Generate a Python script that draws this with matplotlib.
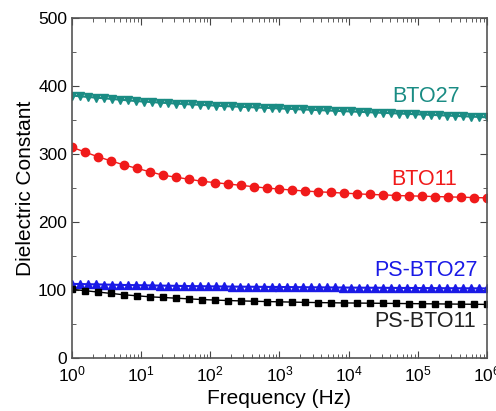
import numpy as np
import matplotlib
matplotlib.use("Agg")
import matplotlib.pyplot as plt
from matplotlib.ticker import LogLocator, MultipleLocator, NullFormatter

plt.rcParams["font.family"] = ["Liberation Sans", "DejaVu Sans"]
plt.rcParams["mathtext.fontset"] = "custom"
plt.rcParams["mathtext.rm"] = "Liberation Sans"

# --- data ----------------------------------------------------------
# measurement sweeps (log-spaced frequency grid, Hz)
freq_dense = np.logspace(0, 6, 53)   # triangle series
freq_sparse = np.logspace(0, 6, 33)  # circle / square series

bto27 = [386, 385, 384, 383, 382, 381, 380, 379, 378, 377.2,
         376.4, 375.7, 375, 374.3, 373.6, 373, 372.4, 371.8, 371.2, 370.6,
         370.1, 369.6, 369.1, 368.6, 368.1, 367.6, 367.1, 366.6, 366.1, 365.6,
         365.1, 364.6, 364.1, 363.6, 363.1, 362.6, 362.1, 361.6, 361.1, 360.6,
         360.1, 359.6, 359.1, 358.6, 358.1, 357.6, 357.1, 356.6, 356.1, 355.6,
         355.1, 354.6, 354.0]

bto11 = [310, 303, 296, 290, 284, 279, 274, 269, 266, 263,
         260, 258, 256, 254, 252, 250, 248.5, 247, 245.5, 244.5,
         243.5, 242.5, 241.5, 240.5, 240, 239, 238.5, 238, 237.5, 237,
         236.5, 236, 235.5]

ps_bto27 = [109, 108.8, 108.5, 108.3, 108.0, 107.8, 107.5, 107.3, 107.1, 106.9,
            106.7, 106.5, 106.3, 106.1, 105.9, 105.7, 105.6, 105.4, 105.3, 105.2,
            105.0, 104.9, 104.8, 104.7, 104.6, 104.5, 104.4, 104.3, 104.2, 104.1,
            104.0, 103.9, 103.8, 103.7, 103.6, 103.5, 103.4, 103.3, 103.3, 103.2,
            103.1, 103.0, 103.0, 102.9, 102.8, 102.8, 102.7, 102.6, 102.6, 102.5,
            102.5, 102.4, 102.4]

ps_bto11 = [101, 99, 97, 95, 93, 91.5, 90, 89, 88, 87,
            86, 85.2, 84.5, 84, 83.5, 83, 82.6, 82.2, 81.8, 81.5,
            81.2, 81, 80.8, 80.6, 80.4, 80.2, 80, 79.8, 79.6, 79.4,
            79.2, 79, 78.8]

# --- plot ----------------------------------------------------------
fig = plt.figure(figsize=(4.96, 4.11), dpi=100)
ax = fig.add_axes([0.145, 0.129, 0.837, 0.827])

teal = "#1a8c84"
red = "#f01a1a"
blue = "#1a1ae6"

ax.plot(freq_dense, bto27, color=teal, lw=1.5, marker="v", ms=5.5, mec=teal, mfc=teal)
ax.plot(freq_sparse, bto11, color=red, lw=1, marker="o", ms=6, mec=red, mfc=red)
ax.plot(freq_dense, ps_bto27, color=blue, lw=1.5, marker="^", ms=5.5, mec=blue, mfc=blue)
ax.plot(freq_sparse, ps_bto11, color="black", lw=1, marker="s", ms=4.5, mec="black", mfc="black")

ax.text(1.3e5, 385, "BTO27", color=teal, fontsize=15.5, ha="center", va="center")
ax.text(1.25e5, 262, "BTO11", color=red, fontsize=15.5, ha="center", va="center")
ax.text(1.3e5, 129, "PS-BTO27", color=blue, fontsize=15.5, ha="center", va="center")
ax.text(1.25e5, 53, "PS-BTO11", color="#222222", fontsize=15.5, ha="center", va="center")

ax.set_xscale("log")
ax.set_xlim(1, 1e6)
ax.set_ylim(0, 500)
ax.xaxis.set_major_locator(LogLocator(base=10, numticks=10))
ax.xaxis.set_minor_locator(LogLocator(base=10, subs=np.arange(2, 10), numticks=10))
ax.xaxis.set_minor_formatter(NullFormatter())
ax.yaxis.set_major_locator(MultipleLocator(100))
ax.yaxis.set_minor_locator(MultipleLocator(50))

ax.tick_params(which="both", direction="in", top=True, right=True, color="#444444")
ax.tick_params(which="major", length=5, labelsize=12.5)
ax.tick_params(which="minor", length=3)
ax.tick_params(axis="x", pad=5)
for s in ax.spines.values():
    s.set_color("#555555")
    s.set_linewidth(1.2)

ax.set_xlabel("Frequency (Hz)", fontsize=15, labelpad=3)
ax.set_ylabel("Dielectric Constant", fontsize=15, labelpad=2)

fig.savefig("out.png", dpi=100)
